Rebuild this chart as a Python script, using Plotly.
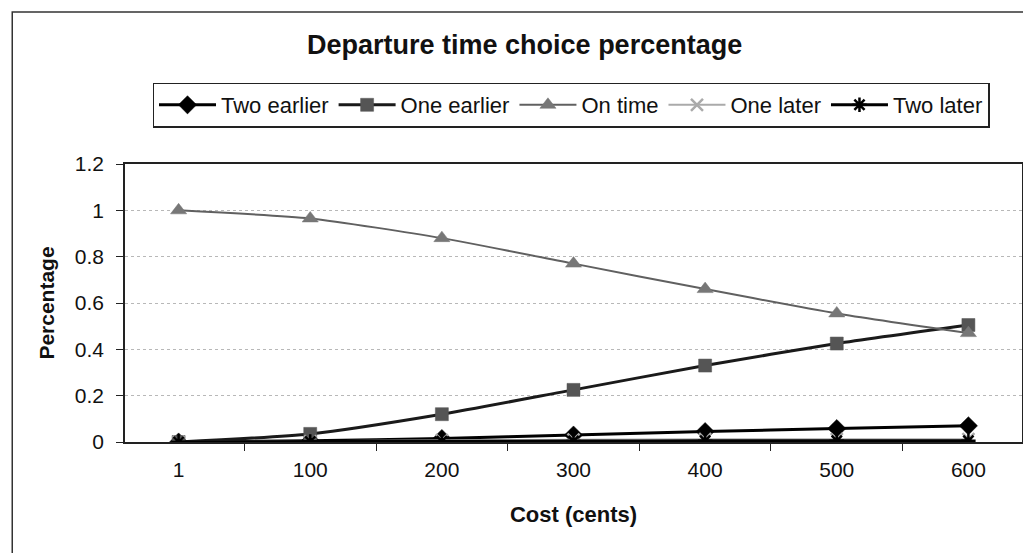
import plotly.graph_objects as go

categories = ["1", "100", "200", "300", "400", "500", "600"]
two_earlier = [0.0, 0.005, 0.015, 0.03, 0.045, 0.058, 0.07]
one_earlier = [0.0, 0.035, 0.12, 0.225, 0.33, 0.425, 0.505]
on_time = [1.0, 0.965, 0.88, 0.77, 0.66, 0.555, 0.47]
one_later = [0.0, 0.003, 0.008, 0.01, 0.012, 0.012, 0.012]
two_later = [0.0, 0.002, 0.003, 0.004, 0.005, 0.005, 0.005]

font = "Liberation Sans, Arial, sans-serif"

# page body has an 8px margin; figure coordinates are screen - 8
W, H = 1023, 545
L, R, T, B = 117, 7, 156, 111
PW = W - L - R
PH = H - T - B

fig = go.Figure()
series = [
    ("Two earlier", two_earlier, "#000000", "#000000", "diamond", 14, 3),
    ("One earlier", one_earlier, "#1a1a1a", "#555555", "square", 13, 3),
    ("On time", on_time, "#606060", "#777777", "triangle-up", 14, 2),
    ("One later", one_later, "#aaaaaa", "#aaaaaa", "x-thin-open", 12, 2),
    ("Two later", two_later, "#000000", "#000000", "asterisk-open", 12, 3),
]
for name, vals, lc, mc, sym, sz, lw in series:
    open_sym = sym.endswith("open")
    fig.add_trace(go.Scatter(
        x=categories, y=vals, name=name, mode="lines+markers",
        line=dict(color=lc, width=lw, shape="spline", smoothing=0.6),
        marker=dict(symbol=sym, size=sz, color=mc,
                    line=dict(color=mc, width=2.5 if open_sym else 0.5)),
    ))

fig.update_layout(
    width=W, height=H,
    margin=dict(l=L, r=R, t=T, b=B),
    paper_bgcolor="white", plot_bgcolor="white",
    font=dict(family=font, size=21, color="#111111"),
    title=dict(text="<b>Departure time choice percentage</b>", x=0.505, xanchor="center",
               y=1 - 37 / H, yanchor="middle", font=dict(size=27, family=font)),
    showlegend=True,
    legend=dict(orientation="h", x=(564 - L) / PW, xanchor="center", y=(T + PH - 97) / PH,
                yanchor="middle",
                bordercolor="#222222", borderwidth=1.5, bgcolor="white",
                font=dict(size=22, family=font), itemwidth=57, tracegroupgap=0),
    xaxis=dict(type="category", tickson="boundaries", ticks="outside", ticklen=7,
               tickcolor="#222", showline=True, linecolor="#222", linewidth=1.5,
               mirror=True, showgrid=False, ticklabelstandoff=8,
               title=dict(text="<b>Cost (cents)</b>", font=dict(size=22), standoff=27)),
    yaxis=dict(range=[0, 1.2], tickvals=[0, 0.2, 0.4, 0.6, 0.8, 1, 1.2],
               ticktext=["0", "0.2", "0.4", "0.6", "0.8", "1", "1.2"],
               ticks="outside", ticklen=7, tickcolor="#222", showline=True,
               linecolor="#222", linewidth=1.5, mirror=True, ticklabelstandoff=8,
               showgrid=True, gridcolor="#b8b8b8", griddash="dot", gridwidth=1,
               zeroline=False,
               title=dict(text="<b>Percentage</b>", font=dict(size=21), standoff=14)),
    shapes=[dict(type="rect", xref="paper", yref="paper",
                 x0=(4 - L) / PW, x1=(1040 - L) / PW,
                 y0=(T + PH - 570) / PH, y1=(T + PH - 4) / PH,
                 line=dict(color="#333", width=1.5), layer="below")],
)

fig.write_html("out.html")
